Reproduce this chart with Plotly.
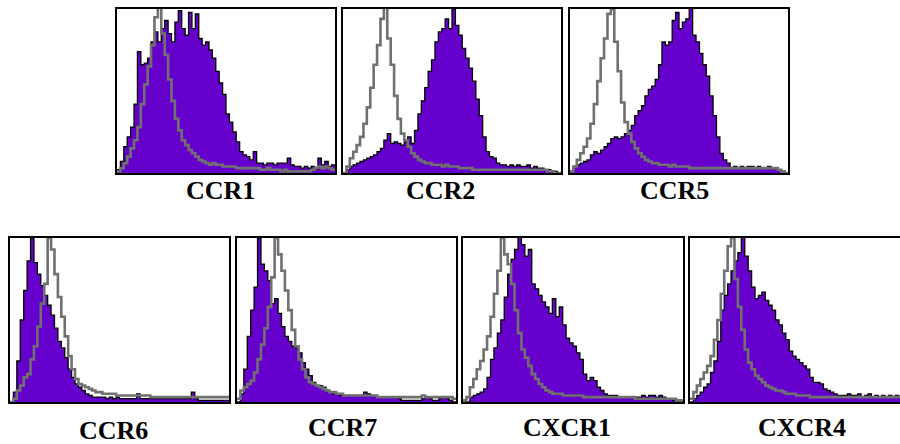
import plotly.graph_objects as go

# ---- data: histogram counts (% of peak) in 64 fluorescence channels ----
markers = ["CCR1", "CCR2", "CCR5", "CCR6", "CCR7", "CXCR1", "CXCR4"]

ccr1_stained = [2,7,16,22,28,42,74,66,67,70, 80,86,80,88,93,85,80,92,99,88,
                84,98,88,97,82,78,80,75,70,62, 55,48,36,31,25,19,13,11,10,8,
                13,6,6,5,6,6,5,6,6,6, 9,5,4,4,3,4,3,4,2,9, 5,7,4,5]
ccr1_isotype = [1,3,6,10,15,20,28,42,54,65, 78,95,104,85,72,57,44,33,26,20,
                17,14,12,10,8,7,6,5,6,5, 5,4,4,4,4,3,3,3,3,3,
                3,3,2,2,3,2,2,2,1,2, 1,1,1,1,1,1,1,2,3,4, 3,4,3,2]

ccr2_stained = [0,2,4,5,6,7,8,9,10,11, 13,15,20,24,18,19,18,17,19,22, 18,
                26,36,44,52,62,69,80,86,88,94, 88,100,90,84,76,70,64,56,45,35,
                22,13,10,9,6,5,5,4,5,4, 5,4,4,5,3,4,3,3,2,2, 1,1,0]
ccr2_isotype = [0,4,9,13,17,22,30,40,52,66, 78,94,102,82,66,47,33,24,20,16,
                12,10,8,7,6,6,5,5,5,4, 5,4,4,4,3,3,3,3,2,2,
                2,2,2,2,2,2,2,2,2,2, 2,2,2,2,2,2,2,2,2,2, 1,1,0,0]

ccr5_stained = [1,4,5,6,7,8,11,13,12,14, 16,18,21,22,21,22,24,26,29,35,
                38,41,47,51,53,57,66,80,78,80, 93,98,88,92,94,101,84,80,73,66,
                59,47,35,22,12,8,6,3,4,3, 4,3,4,4,3,4,3,3,4,3, 3,2,1,0]
ccr5_isotype = [1,4,8,12,16,21,30,42,56,70, 82,97,100,80,62,43,31,24,19,15,
                12,10,8,7,6,6,5,5,5,4, 5,4,4,4,4,3,3,3,3,3,
                3,3,3,3,3,3,3,3,3,3, 3,3,3,3,3,3,3,3,3,3, 3,2,1,0]

ccr6_stained = [0,6,25,50,68,86,100,85,78,71, 65,59,53,45,37,33,27,20,15,11,
                9,7,5,4,3,3,3,3,2,3, 2,3,2,2,2,2,2,5,2,2,
                2,2,2,2,2,2,2,2,2,2, 2,2,2,6,2,1,1,1,1,1, 1,1,1,1]
ccr6_isotype = [0,2,7,10,15,17,26,34,46,60, 72,100,93,78,64,52,40,28,20,14,
                11,10,9,8,7,6,6,5,5,5, 5,4,4,4,4,4,4,4,4,4,
                4,3,3,3,3,3,3,3,3,3, 3,3,3,3,3,3,3,3,3,3, 3,3,3,3]

ccr7_stained = [0,5,20,40,56,70,100,84,80,74, 60,63,54,46,40,37,34,33,30,24,
                20,16,12,10,10,9,7,6,5,5, 4,4,4,4,4,4,4,6,5,4,
                4,3,3,3,3,3,3,2,1,1, 1,1,1,1,2,3,2,1,1,2, 3,2,1,0]
ccr7_isotype = [2,7,9,11,13,18,26,35,45,58, 76,100,90,80,68,56,44,34,26,20,
                15,12,11,10,9,8,7,6,6,5, 5,4,4,4,4,4,4,4,4,4,
                4,3,3,3,3,3,3,3,3,3, 3,3,3,3,4,3,3,3,3,3, 3,3,3,2]

cxcr1_stained = [0,0,3,4,5,6,8,15,26,33, 42,50,64,78,87,93,102,96,89,93,
                 72,69,65,61,58,54,63,52,58,47, 39,36,34,30,26,17,13,15,13,9,
                 7,5,4,4,4,3,3,3,3,3, 3,3,4,3,4,4,3,4,3,2, 2,1,1,0]
cxcr1_isotype = [1,3,9,14,20,25,32,40,52,66, 80,100,90,84,72,56,42,32,27,22,
                 17,14,11,9,7,6,5,5,5,4, 4,4,4,4,4,3,3,3,3,3,
                 3,3,3,3,3,3,3,3,3,3, 2,2,2,2,2,2,2,2,2,2, 2,2,1,1]

cxcr4_stained = [0,2,4,6,9,11,18,25,37,56, 65,72,80,86,91,102,89,80,70,63,
                 65,67,62,59,56,50,47,42,38,31, 28,26,24,22,20,15,12,12,11,8,
                 7,6,5,4,4,4,5,4,4,5, 3,4,5,3,4,3,4,3,4,3, 4,3,2,1]
cxcr4_isotype = [2,6,10,14,18,22,28,38,50,66, 80,95,100,75,58,44,32,24,20,16,
                 14,12,10,9,8,7,7,6,5,5, 5,4,4,4,4,3,3,3,3,3,
                 3,3,3,3,3,3,3,3,3,3, 3,3,3,3,3,3,3,3,3,3, 3,3,3,2]

stained = [ccr1_stained, ccr2_stained, ccr5_stained, ccr6_stained,
           ccr7_stained, cxcr1_stained, cxcr4_stained]
isotype = [ccr1_isotype, ccr2_isotype, ccr5_isotype, ccr6_isotype,
           ccr7_isotype, cxcr1_isotype, cxcr4_isotype]
n_channels = 64
channels = list(range(n_channels + 1))  # bin edges

# ---- layout (pixels) ----
W, H = 900, 444
boxes = [(117, 335, 9, 173), (343, 561, 9, 173), (570, 788, 9, 173),
         (10, 229, 238, 402), (237, 456, 238, 402), (463, 683, 238, 402),
         (690, 909, 238, 402)]
label_pos = [(220, 191), (440, 191), (674, 191),
             (113, 430), (342, 427), (567, 427), (802, 427)]

PURPLE = "#6600cc"
GRAY = "#707070"

fig = go.Figure()
layout = dict(width=W, height=H, margin=dict(l=0, r=0, t=0, b=0),
              paper_bgcolor="white", plot_bgcolor="white", showlegend=False)
annotations = []

for k, name in enumerate(markers):
    x0, x1, y0, y1 = boxes[k]
    xr = min(x1, W)
    ax = "" if k == 0 else str(k + 1)
    layout["xaxis" + ax] = dict(
        domain=[x0 / W, xr / W], range=[0, n_channels * (xr - x0) / (x1 - x0)],
        showticklabels=False, ticks="", showgrid=False, zeroline=False,
        showline=True, linecolor="black", linewidth=2, mirror=True,
        anchor="y" + ax, fixedrange=True)
    layout["yaxis" + ax] = dict(
        domain=[1 - y1 / H, 1 - y0 / H], range=[0, 100],
        showticklabels=False, ticks="", showgrid=False, zeroline=False,
        showline=True, linecolor="black", linewidth=2, mirror=(x1 <= W),
        anchor="x" + ax, fixedrange=True)
    s = stained[k] + [stained[k][-1]]
    iso = isotype[k] + [isotype[k][-1]]
    fig.add_trace(go.Scatter(x=channels, y=s, mode="lines", line_shape="hv",
                             fill="tozeroy", fillcolor=PURPLE,
                             line=dict(color="black", width=1.3),
                             xaxis="x" + ax, yaxis="y" + ax, hoverinfo="skip"))
    fig.add_trace(go.Scatter(x=channels, y=iso, mode="lines", line_shape="hv",
                             line=dict(color=GRAY, width=2.6),
                             xaxis="x" + ax, yaxis="y" + ax, hoverinfo="skip"))
    lx, ly = label_pos[k]
    annotations.append(dict(text=name, x=lx / W, y=1 - ly / H, xref="paper",
                            yref="paper", xanchor="center", yanchor="middle",
                            showarrow=False,
                            font=dict(family="Liberation Serif, Times New Roman, serif",
                                      size=26, color="black", weight="bold")))

layout["annotations"] = annotations
fig.update_layout(**layout)
fig.write_html("out.html",
               config={"displayModeBar": False, "staticPlot": True},
               post_script="document.body.style.margin='0';"
                           "document.body.style.padding='0';"
                           "document.body.style.overflow='hidden';")
